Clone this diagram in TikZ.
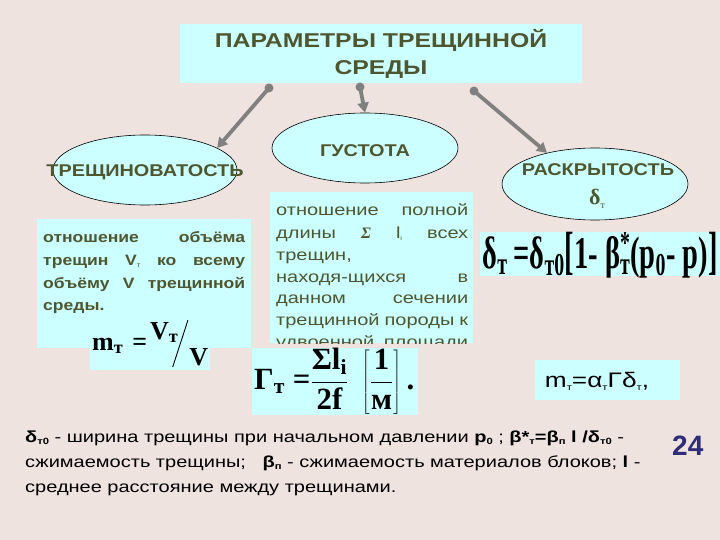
\documentclass[tikz,border=0pt]{standalone}
\usepackage{fontspec}
\setmainfont{Liberation Sans}
\newfontfamily\wsans[FakeStretch=1.25]{Liberation Sans}
\newfontfamily\wmid[FakeStretch=1.17]{Liberation Sans}
\newfontfamily\wtitle[FakeStretch=1.24]{Liberation Sans}
\newfontfamily\tnr{Liberation Serif}
\usetikzlibrary{shapes.geometric,arrows.meta}
\definecolor{bgc}{RGB}{239,227,223}
\definecolor{cy}{RGB}{204,255,255}
\definecolor{olv}{RGB}{78,86,48}
\definecolor{arr}{RGB}{128,128,128}
\definecolor{navy}{RGB}{45,45,120}
\newcommand\gp{\hskip 0pt plus 1fill\relax}
\begin{document}
\begin{tikzpicture}[x=1pt,y=-1pt,
  box/.style={fill=cy, draw=none, inner sep=0pt, anchor=north west},
  oval/.style={ellipse, fill=cy, draw=black, line width=0.6pt, inner sep=0pt},
  conn/.style={draw=arr, line width=3.8pt, -{Triangle[length=10pt,width=11pt]}},
  dot/.style={circle, fill=arr, inner sep=0pt, minimum size=9pt},
  lbl/.style={text=olv, inner sep=0pt},
  ttl/.style={lbl, anchor=base, font=\wtitle\bfseries\fontsize{20}{20}\selectfont},
  ovt/.style={lbl, anchor=base, font=\wmid\bfseries\fontsize{17}{17}\selectfont},
  lline/.style={lbl, anchor=base west, text width=202pt, font=\wmid\bfseries\fontsize{15}{15}\selectfont},
  mline/.style={lbl, anchor=base west, text width=192pt, font=\wsans\fontsize{16}{16}\selectfont},
  bline/.style={inner sep=0pt, anchor=base west, font=\wsans\fontsize{16}{16}\selectfont}
]
\fill[bgc] (0,0) rectangle (720,540);
\useasboundingbox (0,0) rectangle (720,540);

% title
\node[box, minimum width=402pt, minimum height=59pt] (title) at (180,24) {};
\node[ttl] (t1) at (381,48) {ПАРАМЕТРЫ ТРЕЩИННОЙ};
\node[ttl] (t2) at (381,75) {СРЕДЫ};

% ellipses
\node[oval, minimum width=184pt, minimum height=70pt] (lft) at (145,170) {};
\node[oval, minimum width=186pt, minimum height=70pt] (gust) at (365,148) {};
\node[oval, minimum width=186pt, minimum height=72pt] (rgt) at (595,184) {};
\node[ovt] (lftt) at (145,177) {ТРЕЩИНОВАТОСТЬ};
\node[ovt] (gustt) at (365,157) {ГУСТОТА};
\node[ovt] (rgtt) at (598,176) {РАСКРЫТОСТЬ};
\node[lbl, anchor=base, font=\tnr\bfseries\fontsize{22}{22}\selectfont] (rgtd) at (597,205) {δ{\mdseries\fontsize{10}{10}\selectfont\raisebox{-3pt}{т}}};

% connectors
\node[dot] (d1) at (269,88) {};
\node[dot] (d2) at (360,87) {};
\node[dot] (d3) at (474,91) {};
\draw[conn] (d1.center) -- (lft.17);
\draw[conn] (d2.center) -- (gust.north);
\draw[conn] (d3.center) -- (rgt.147);

% left box
\node[box, minimum width=214pt, minimum height=129pt] (lbox) at (37,219) {};
\node[box, minimum width=120pt, minimum height=40pt] (lform) at (90,330) {};
\node[lline] (l1) at (43,242) {отношение\gp объёма};
\node[lline] (l2) at (43,265) {трещин\gp V{\mdseries\fontsize{7}{7}\selectfont\raisebox{-2pt}{т}}\gp ко\gp всему};
\node[lline] (l3) at (43,288) {объёму\gp V\gp трещинной};
\node[lline] (l4) at (43,310) {среды.};
\node[inner sep=0pt, anchor=base west] (lf) at (92,350) {\tnr\bfseries\fontsize{26}{26}\selectfont m\textsubscript{т}\hspace{9pt}=\hspace{3pt}\raisebox{11pt}{V\textsubscript{т}}\hspace{-6pt}\raisebox{-17pt}{\rotatebox{72}{\rule{49pt}{0.9pt}}}\hspace{1pt}\raisebox{-15pt}{V}};

% middle box
\node[box, minimum width=203pt, minimum height=151pt] (mbox) at (270,192) {};
\begin{scope}
\clip (270,192) rectangle (473,343);
\node[mline] (m1) at (276,215) {отношение\gp полной};
\node[mline] (m2) at (276,238) {длины\gp {\tnr\bfseries\itshape Σ}\gp l{\fontsize{6}{6}\selectfont\raisebox{-2pt}{i}}\gp всех};
\node[mline] (m3) at (276,260) {трещин,};
\node[mline] (m4) at (276,282) {находя-щихся\gp в};
\node[mline] (m5) at (276,303) {данном\gp сечении};
\node[mline] (m6) at (276,325) {трещинной\gp породы\gp к};
\node[mline] (m7) at (276,347) {удвоенной\gp площади};
\end{scope}
\node[box, minimum width=166pt, minimum height=67pt] (gform) at (252,348) {};
\node[inner sep=0pt, anchor=west] (gf) at (254,381) {\resizebox{160pt}{!}{\tnr\bfseries\fontsize{26}{26}\selectfont Γ\textsubscript{т} =$\displaystyle\frac{\mbox{Σl\textsubscript{i}}}{\mbox{2f}}\;\left[\frac{\mbox{1}}{\mbox{м}}\right]$\,.}};

% right formulas
\node[box, minimum width=240pt, minimum height=44pt] (rform) at (480,232) {};
\node[inner sep=0pt] (rf) at (600,255) {\resizebox*{235pt}{46pt}{\tnr\bfseries\fontsize{28}{28}\selectfont δ\textsubscript{т}\hspace{6pt}=δ\textsubscript{т0}\scalebox{1}[1.15]{[}1- β\rlap{\textsuperscript{*}}\textsubscript{т}(p\textsubscript{0}- p)\scalebox{1}[1.15]{]}}};
\node[box, minimum width=145pt, minimum height=40pt] (mrel) at (535,360) {};
\node[inner sep=0pt] (mr) at (597,381) {\wsans\fontsize{21}{21}\selectfont m{\fontsize{9}{9}\selectfont\raisebox{-3pt}{т}}=α{\fontsize{9}{9}\selectfont\raisebox{-3pt}{т}}Γδ{\fontsize{9}{9}\selectfont\raisebox{-3pt}{т}},};

% bottom text
\node[bline] (b1) at (25,442) {\textbf{δ{\fontsize{9}{9}\selectfont\raisebox{-2pt}{т0}}} - ширина трещины при начальном давлении \textbf{p{\fontsize{9}{9}\selectfont\raisebox{-2pt}{0}}} ; \textbf{β*{\fontsize{9}{9}\selectfont\raisebox{-2pt}{т}}=β{\fontsize{9}{9}\selectfont\raisebox{-2pt}{п}} l /δ{\fontsize{9}{9}\selectfont\raisebox{-2pt}{т0}}} -};
\node[bline] (b2) at (25,467) {сжимаемость трещины;\ \ \ \textbf{β{\fontsize{9}{9}\selectfont\raisebox{-2pt}{п}}} - сжимаемость материалов блоков; \textbf{l} -};
\node[bline] (b3) at (25,492) {среднее расстояние между трещинами.};
\node[inner sep=0pt, anchor=base west, text=navy, font=\bfseries\fontsize{28}{28}\selectfont] (pg) at (672,455) {24};
\end{tikzpicture}
\end{document}
